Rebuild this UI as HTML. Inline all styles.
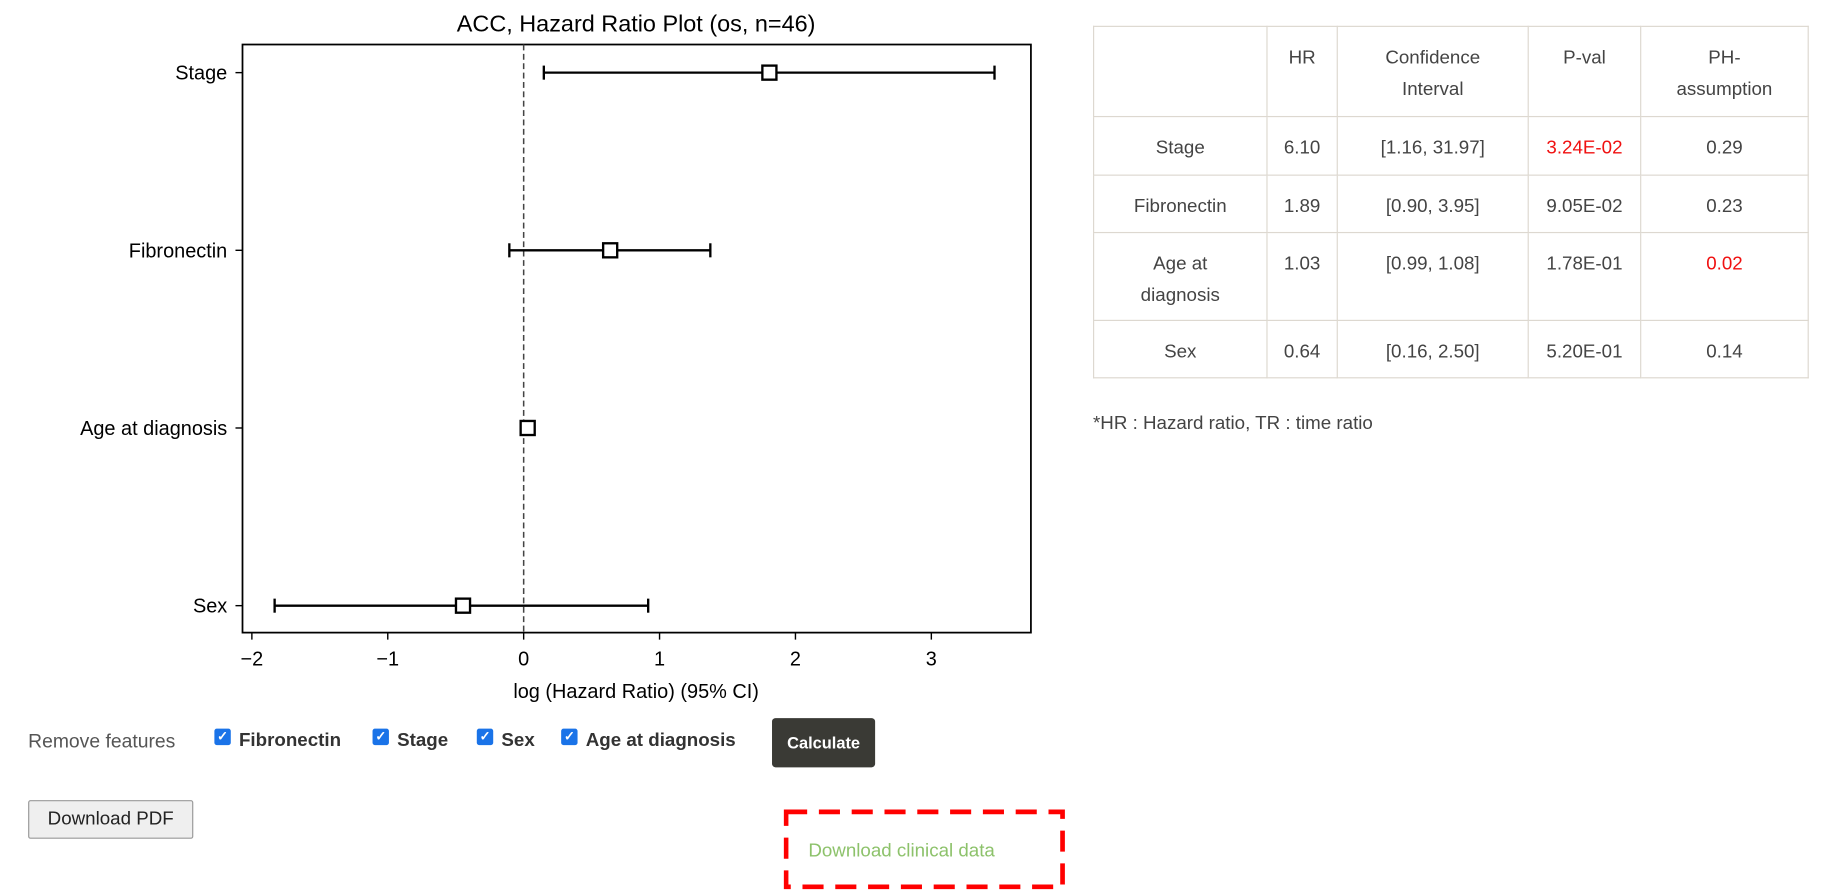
<!DOCTYPE html>
<html><head><meta charset="utf-8">
<style>
html,body{margin:0;padding:0;background:#fff;width:1837px;height:887px;overflow:hidden}
#wrap{position:absolute;left:0;top:0;width:1570px;height:760px;transform:scale(1.1715);transform-origin:0 0;font-family:"Liberation Sans",sans-serif}
.abs{position:absolute}
table{position:absolute;left:933px;top:22px;border-collapse:collapse;font-size:16px;color:#444}
td{border:1px solid #ddd8d0;text-align:center;vertical-align:top;padding:13px 4px 0 4px;line-height:27px;box-sizing:border-box}
.red{color:#f01010}
.cb{position:absolute;width:14px;height:14px;background:#1a73e8;border-radius:2px;color:#fff;font-size:11px;line-height:14px;text-align:center;font-weight:bold}
.lbl{position:absolute;font-weight:bold;font-size:16px;color:#333}
</style></head><body>
<div id="wrap">
<svg class="abs" style="left:0;top:0" width="900" height="610" id="plot" font-family="Liberation Sans, DejaVu Sans, sans-serif"></svg>

<table>
<tr style="height:77px"><td style="width:148px"></td><td style="width:60px">HR</td><td style="width:163px">Confidence<br>Interval</td><td style="width:96px">P-val</td><td style="width:143px">PH-<br>assumption</td></tr>
<tr style="height:50px"><td>Stage</td><td>6.10</td><td>[1.16, 31.97]</td><td class="red">3.24E-02</td><td>0.29</td></tr>
<tr style="height:49px"><td>Fibronectin</td><td>1.89</td><td>[0.90, 3.95]</td><td>9.05E-02</td><td>0.23</td></tr>
<tr style="height:75px"><td>Age at<br>diagnosis</td><td>1.03</td><td>[0.99, 1.08]</td><td>1.78E-01</td><td class="red">0.02</td></tr>
<tr style="height:49px"><td>Sex</td><td>0.64</td><td>[0.16, 2.50]</td><td>5.20E-01</td><td>0.14</td></tr>
</table>
<div class="abs" style="left:933px;top:353px;font-size:16px;color:#444">*HR : Hazard ratio, TR : time ratio</div>

<div class="abs" style="left:24px;top:624px;font-size:16.5px;color:#555">Remove features</div>
<div class="cb" style="left:183px;top:622px">✓</div>
<div class="lbl" style="left:204px;top:624px">Fibronectin</div>
<div class="cb" style="left:318px;top:622px">✓</div>
<div class="lbl" style="left:339px;top:624px">Stage</div>
<div class="cb" style="left:407px;top:622px">✓</div>
<div class="lbl" style="left:428px;top:624px">Sex</div>
<div class="cb" style="left:479px;top:622px">✓</div>
<div class="lbl" style="left:500px;top:624px">Age at diagnosis</div>
<div class="abs" style="left:659px;top:613px;width:88px;height:42px;background:#3a3a35;border-radius:3px;color:#fff;font-weight:bold;font-size:14px;line-height:42px;text-align:center">Calculate</div>

<div class="abs" style="left:24px;top:683px;width:139px;height:31px;background:#efefef;border:1px solid #999;border-radius:2px;font-size:16px;line-height:31px;text-align:center;color:#222">Download PDF</div>
<svg class="abs" style="left:669px;top:691px" width="242" height="70"><rect x="2" y="2" width="236" height="64" fill="none" stroke="#f00" stroke-width="4" stroke-dasharray="18,10"/></svg>
<div class="abs" style="left:690px;top:718px;font-size:16px;color:#8dc26b">Download clinical data</div>
</div>
<script>
const categories=["Stage","Fibronectin","Age at diagnosis","Sex"];
const hrValues=[6.10,1.89,1.03,0.64];
const ciLower=[1.16,0.90,0.99,0.16];
const ciUpper=[31.97,3.95,1.08,2.50];
const xTicks=[-2,-1,0,1,2,3];
const xTickLabels=["−2","−1","0","1","2","3"];
const NS="http://www.w3.org/2000/svg";
const svg=document.getElementById('plot');
const L=207,R=880,T=38,B=540;
function xs(v){return 447+v*116;}
function ys(i){return 62+i*(517-62)/(categories.length-1);}
function mk(tag,attrs,parent){const e=document.createElementNS(NS,tag);for(const k in attrs)e.setAttribute(k,attrs[k]);(parent||svg).appendChild(e);return e;}
let t=mk('text',{x:543,y:27,'text-anchor':'middle','font-size':20,fill:'#000'});t.textContent="ACC, Hazard Ratio Plot (os, n=46)";


let fr=mk('rect',{x:L,y:T,width:R-L,height:B-T,fill:'none',stroke:'#000','stroke-width':1.5});


let zl=mk('line',{x1:xs(0),x2:xs(0),y1:T,y2:B,stroke:'#444','stroke-width':1.3,'stroke-dasharray':'5,3'});


xTicks.forEach((v,i)=>{
  const g=mk('g',{});
  
  
  mk('line',{x1:xs(v),x2:xs(v),y1:B,y2:B+6,stroke:'#000','stroke-width':1.2},g);
  const tx=mk('text',{x:xs(v),y:B+28,'text-anchor':'middle','font-size':17},g);tx.textContent=xTickLabels[i];
});
let xl=mk('text',{x:543,y:596,'text-anchor':'middle','font-size':17});xl.textContent="log (Hazard Ratio) (95% CI)";


categories.forEach((c,i)=>{
  const y=ys(i);
  const g=mk('g',{});
  
  
  mk('line',{x1:L-6,x2:L,y1:y,y2:y,stroke:'#000','stroke-width':1.2},g);
  const lb=mk('text',{x:L-13,y:y+6,'text-anchor':'end','font-size':17},g);lb.textContent=c;
  const a=xs(Math.log(ciLower[i])),b=xs(Math.log(ciUpper[i])),p=xs(Math.log(hrValues[i]));
  mk('line',{x1:a,x2:b,y1:y,y2:y,stroke:'#000','stroke-width':2},g);
  mk('line',{x1:a,x2:a,y1:y-6,y2:y+6,stroke:'#000','stroke-width':2},g);
  mk('line',{x1:b,x2:b,y1:y-6,y2:y+6,stroke:'#000','stroke-width':2},g);
  mk('rect',{x:p-6,y:y-6,width:12,height:12,fill:'#fff',stroke:'#000','stroke-width':2},g);
});
</script>
</body></html>
